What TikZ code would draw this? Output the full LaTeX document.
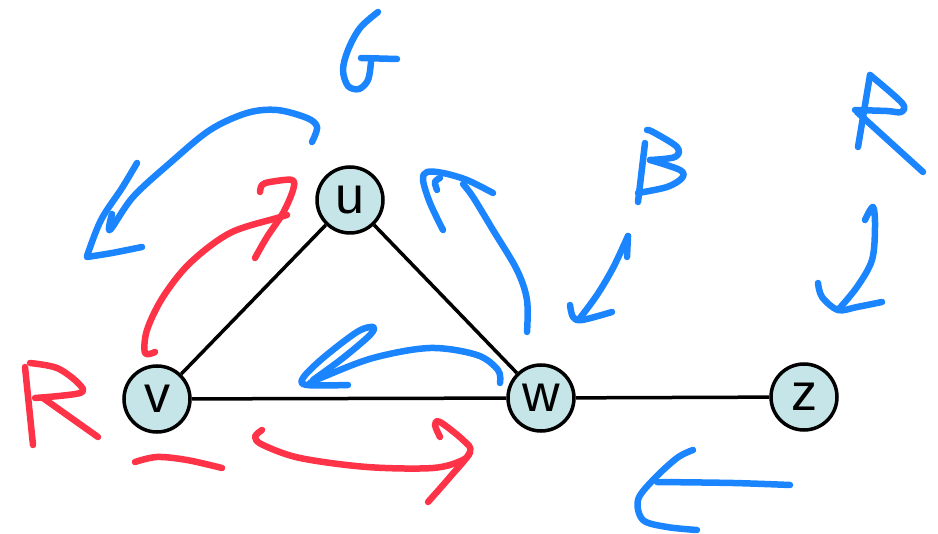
\documentclass[tikz,border=0pt]{standalone}
\usepackage{fontspec}
\setmainfont{Liberation Sans}
\definecolor{penblue}{HTML}{1A85FF}
\definecolor{penred}{HTML}{FF3348}
\definecolor{nodefill}{HTML}{C6E5E8}
\begin{document}
\begin{tikzpicture}[x=1pt,y=-1pt,
  vert/.style={circle,draw=black,line width=3.5pt,fill=nodefill,minimum size=66pt,inner sep=0pt,font=\fontsize{52}{52}\selectfont},
  edgeline/.style={line width=3.5pt,black},
  bl/.style={penblue,line width=6.5pt,line cap=round,line join=round},
  rd/.style={penred,line width=6.5pt,line cap=round,line join=round},
  sm/.style={smooth,tension=0.55}]
\useasboundingbox (0,0) rectangle (938,534);
% graph
\node[vert] (u) at (350,200) {u};
\node[vert] (v) at (157,399) {v};
\node[vert] (w) at (541,398) {w};
\node[vert] (z) at (804,397) {z};
\draw[edgeline] (v) -- (u);
\draw[edgeline] (u) -- (w);
\draw[edgeline] (v) -- (w);
\draw[edgeline] (w) -- (z);
% letter G
\draw[bl] plot[sm] coordinates {(378,12) (360,28) (348,50) (343,70) (348,86) (359,89) (368,80) (371,62)};
\draw[bl] (361,58) -- (397,59);
% big blue arrow upper left
\draw[bl] plot[sm] coordinates {(312,142) (317,127) (307,118) (277,110) (247,113) (210,130) (170,163) (133,197) (110,230) (112,214)};
\draw[bl] plot[sm] coordinates {(137,163) (122,188) (101,220) (87,256)};
\draw[bl] plot[sm] coordinates {(87,257) (112,253) (142,247)};
% red arrow v to u
\draw[rd] plot[sm] coordinates {(155,352) (145,353) (147,330) (163,297) (190,263) (230,233) (277,218) (287,215)};
\draw[rd] plot[sm] coordinates {(260,192) (262,185) (270,182) (292,180) (293,190) (283,213) (267,237) (255,258)};
% blue arrow w to u
\draw[bl] plot[sm] coordinates {(527,332) (527,300) (517,270) (493,230) (473,197) (463,184)};
\draw[bl] plot[sm] coordinates {(493,193) (467,180) (443,173) (427,172) (423,180) (430,203) (443,230)};
\draw[bl] plot[sm] coordinates {(437,190) (435,182) (440,178)};
% letter B
\draw[bl] (645,143) -- (638,202);
\draw[bl] plot[sm] coordinates {(647,130) (653,132) (677,147) (675,157) (650,160)};
\draw[bl] plot[sm] coordinates {(650,160) (680,170) (682,178) (667,187) (638,193)};
% blue arrow below B
\draw[bl] plot[sm] coordinates {(628,236) (613,268) (597,295) (580,318)};
\draw[bl] (628,236) -- (627,257);
\draw[bl] plot[sm] coordinates {(570,305) (573,317) (582,320) (612,312)};
% letter R (blue)
\draw[bl] (870,75) -- (858,147);
\draw[bl] plot[sm] coordinates {(870,75) (902,103) (901,112) (887,111) (855,110)};
\draw[bl] (857,112) -- (923,172);
% blue arrow below R
\draw[bl] plot[sm] coordinates {(865,220) (873,207) (875,227) (872,260) (857,287) (838,310)};
\draw[bl] plot[sm] coordinates {(818,283) (822,297) (838,310) (857,307) (882,302)};
% blue arrow bottom right
\draw[bl] plot[sm] coordinates {(790,485) (733,483) (657,482)};
\draw[bl] plot[sm] coordinates {(693,450) (677,458) (653,480) (638,500) (643,520) (667,527) (697,530)};
% blue arrow w to v
\draw[bl] plot[sm] coordinates {(500,383) (498,370) (477,355) (430,348) (373,358) (323,377) (310,383)};
\draw[bl] plot[sm] coordinates {(348,385) (307,385) (303,378) (323,358) (357,332) (373,327) (370,335) (343,358) (313,380)};
% letter R (red)
\draw[rd] (25,367) -- (33,445);
\draw[rd] plot[sm] coordinates {(30,363) (57,368) (78,383) (80,393) (35,398)};
\draw[rd] (43,398) -- (98,437);
% red dash
\draw[rd] plot[sm] coordinates {(135,462) (157,457) (187,460) (222,468)};
% red arrow v to w
\draw[rd] plot[sm] coordinates {(262,430) (255,437) (263,445) (300,458) (367,467) (433,468) (463,460) (470,452)};
\draw[rd] plot[sm] coordinates {(440,437) (435,425) (440,422) (463,440) (470,452) (450,477) (428,502)};
\end{tikzpicture}
\end{document}
